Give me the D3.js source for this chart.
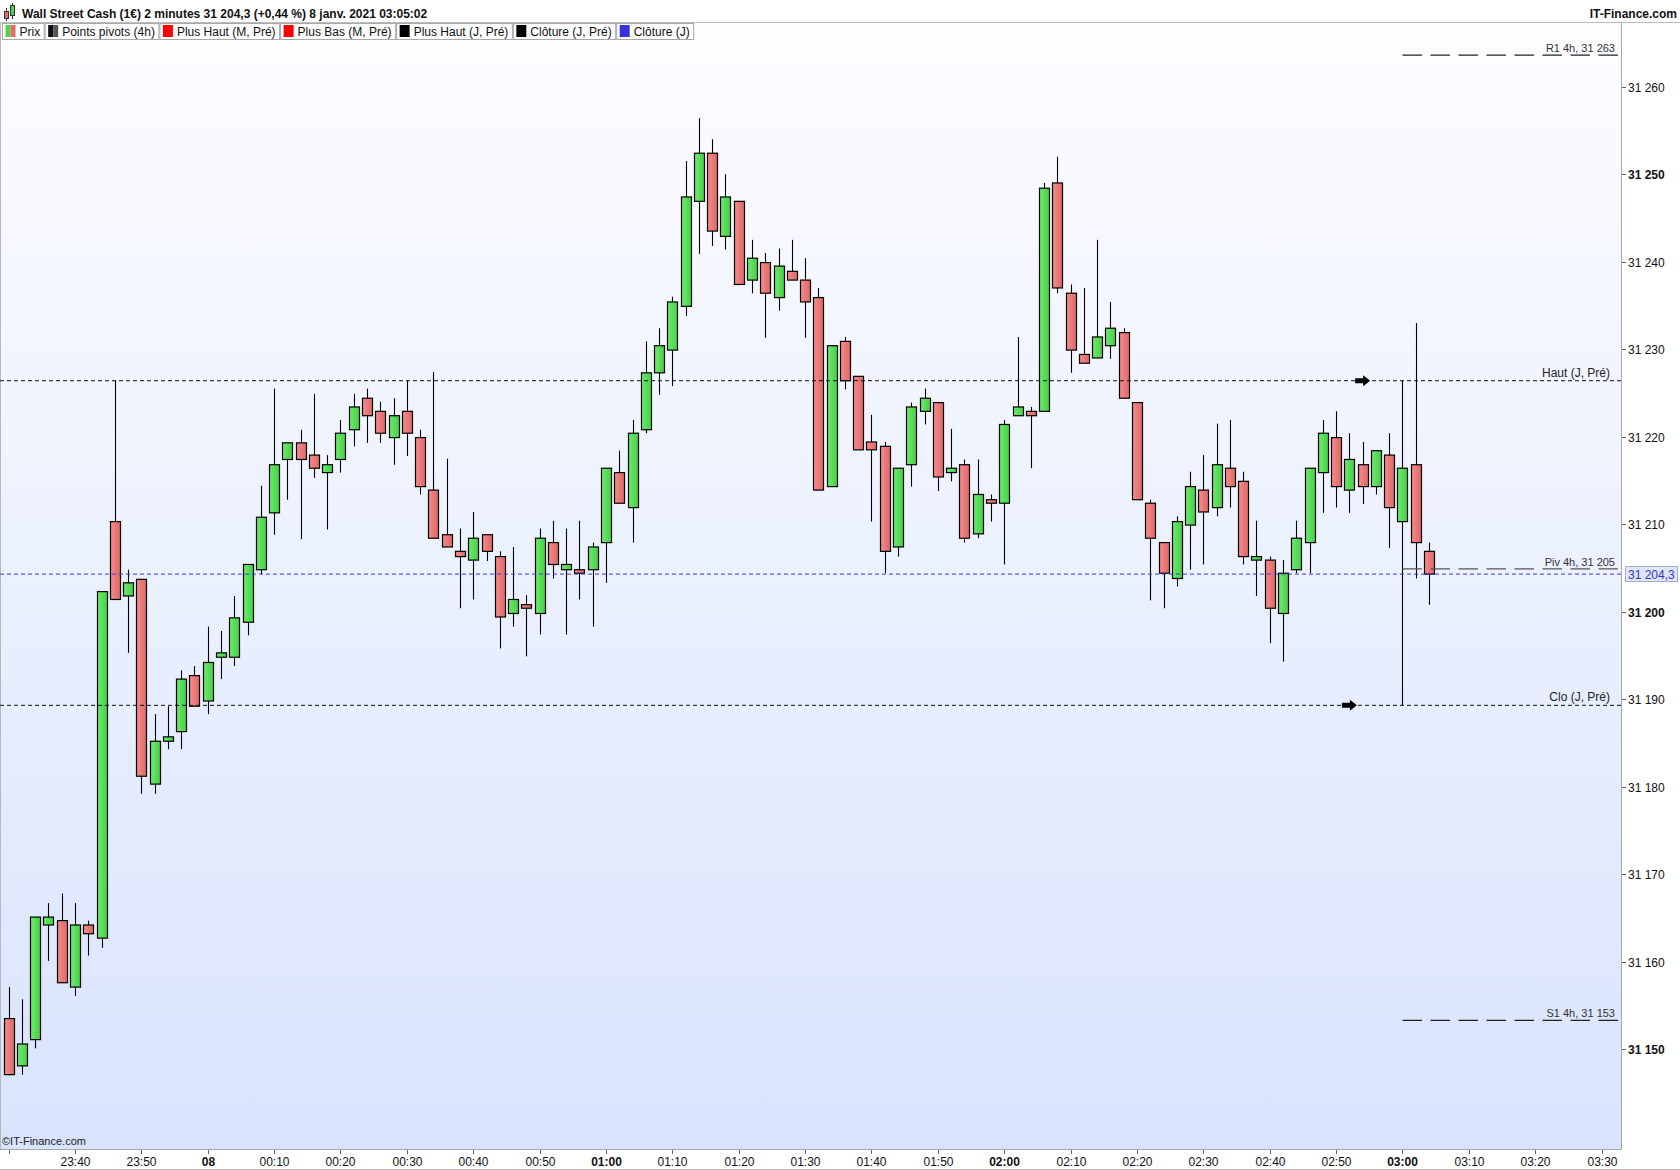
<!DOCTYPE html>
<html><head><meta charset="utf-8">
<script src="https://cdn.jsdelivr.net/npm/d3@7"></script>
<style>
body{margin:0;background:#fff;}
svg{display:block;font-family:"Liberation Sans",Arial,sans-serif;}
</style>
</head><body>
<svg id="c" width="1680" height="1170"></svg>
<script>
// ---------- DATA ----------
const titleText = "Wall Street Cash (1€) 2 minutes 31 204,3 (+0,44 %) 8 janv. 2021 03:05:02";
const brandText = "IT-Finance.com";
const copyrightText = "©IT-Finance.com";
// 2-minute candles starting 23:30 (index 0) to 03:04 (index 107)
const opens = [31153.5,31148.1,31151.1,31164.2,31164.7,31157.1,31164.2,31162.7,31210.3,31201.8,
31203.7,31180.3,31185.2,31186.3,31192.7,31189.8,31194.8,31194.8,31198.8,31204.8,
31211.3,31217.4,31219.3,31217.9,31215.9,31217.4,31220.8,31224.4,31222.9,31219.9,
31222.9,31219.9,31213.9,31208.8,31206.9,31205.9,31208.8,31206.3,31199.8,31200.8,
31199.8,31207.9,31204.8,31204.8,31204.8,31207.9,31215.9,31211.9,31220.8,31227.3,
31229.9,31234.9,31246.9,31252.4,31242.9,31246.9,31237.9,31239.9,31235.9,31238.9,
31237.9,31235.9,31214.3,31230.9,31226.9,31219.4,31218.9,31207.4,31216.8,31222.9,
31223.9,31215.9,31216.8,31208.9,31212.8,31212.4,31222.4,31222.9,31222.9,31249.0,
31236.4,31229.4,31229.0,31230.4,31231.9,31223.9,31212.4,31207.9,31203.8,31209.9,
31213.9,31211.9,31216.4,31214.9,31205.9,31205.9,31199.8,31204.8,31207.9,31215.9,
31219.9,31213.9,31216.8,31214.3,31217.9,31210.3,31216.8,31206.9];
const highs = [31157.1,31155.7,31165.1,31166.7,31167.8,31166.7,31164.7,31202.3,31226.4,31204.8,
31203.7,31188.3,31189.2,31193.3,31193.8,31198.3,31197.8,31201.8,31205.4,31214.4,
31225.5,31219.3,31220.8,31224.9,31217.9,31221.9,31224.9,31225.5,31224.0,31224.4,
31226.4,31220.8,31227.4,31217.5,31209.5,31211.4,31208.8,31206.9,31207.4,31201.9,
31209.5,31210.4,31209.5,31210.4,31207.9,31216.4,31218.4,31221.9,31230.9,31232.4,
31236.0,31251.5,31256.4,31254.0,31250.0,31246.9,31242.5,31241.0,31241.5,31242.5,
31240.4,31237.0,31230.4,31231.4,31226.9,31222.5,31219.4,31216.4,31223.9,31225.5,
31223.9,31220.9,31217.4,31217.4,31213.4,31221.9,31231.4,31223.4,31249.0,31252.0,
31237.4,31237.0,31242.5,31235.4,31232.4,31223.9,31212.8,31207.9,31210.9,31216.0,
31217.9,31221.5,31221.9,31216.0,31210.4,31206.3,31205.9,31210.4,31216.4,31221.9,
31222.9,31220.4,31219.4,31218.4,31220.4,31226.4,31233.0,31207.9];
const lows = [31147.0,31147.1,31150.1,31160.1,31157.6,31156.1,31160.7,31161.6,31201.4,31195.3,
31179.2,31179.2,31184.3,31184.3,31189.2,31188.3,31192.3,31193.8,31197.3,31204.3,
31208.8,31212.8,31208.3,31215.3,31209.4,31215.9,31218.9,31219.3,31219.3,31216.8,
31217.8,31213.4,31208.4,31207.4,31200.4,31201.4,31205.8,31195.8,31198.3,31194.9,
31197.4,31203.8,31197.4,31201.4,31198.3,31203.3,31212.4,31207.9,31220.4,31224.8,
31225.8,31233.8,31240.9,31241.8,31241.4,31237.4,31236.4,31231.3,31234.4,31237.9,
31231.3,31213.9,31214.3,31225.4,31218.5,31210.3,31204.4,31206.3,31214.3,31221.4,
31213.8,31214.9,31207.9,31208.4,31210.3,31205.4,31222.4,31216.4,31222.9,31236.4,
31227.3,31228.4,31229.0,31228.9,31224.4,31212.8,31201.3,31200.4,31202.9,31204.8,
31205.4,31210.9,31211.9,31205.4,31201.8,31196.4,31194.3,31204.4,31204.4,31211.3,
31211.9,31211.3,31212.3,31213.4,31207.3,31189.3,31203.8,31200.8];
const closes = [31147.1,31150.6,31165.1,31165.1,31157.6,31164.2,31163.2,31202.3,31201.4,31203.3,
31181.2,31185.2,31185.7,31192.3,31189.2,31194.2,31195.3,31199.3,31205.4,31210.8,
31216.8,31219.3,31217.4,31216.4,31216.8,31220.4,31223.4,31222.4,31220.4,31222.4,
31220.4,31214.3,31208.4,31207.4,31206.3,31208.4,31206.9,31199.4,31201.4,31200.4,
31208.4,31205.4,31205.4,31204.4,31207.4,31216.4,31212.4,31220.4,31227.3,31230.4,
31235.4,31247.4,31252.4,31243.5,31247.4,31237.4,31240.4,31236.4,31239.5,31237.9,
31235.4,31213.9,31230.4,31226.4,31218.5,31218.5,31206.9,31216.4,31223.4,31224.4,
31215.4,31216.4,31208.4,31213.4,31212.4,31221.4,31223.4,31222.4,31248.4,31237.0,
31229.9,31228.4,31231.4,31232.4,31224.4,31212.8,31208.4,31204.4,31210.3,31214.3,
31211.4,31216.8,31214.3,31206.3,31206.3,31200.4,31204.4,31208.4,31216.4,31220.4,
31214.3,31217.4,31214.3,31218.4,31211.9,31216.4,31207.9,31204.3];

// x ticks every 10 minutes (5 candles) from 23:30
const xTickLabels = ["","23:40","23:50","08","00:10","00:20","00:30","00:40","00:50","01:00",
"01:10","01:20","01:30","01:40","01:50","02:00","02:10","02:20","02:30","02:40","02:50","03:00",
"03:10","03:20","03:30"];
const xTickBold = ["08","01:00","02:00","03:00"];
const yTicks = [31150,31160,31170,31180,31190,31200,31210,31220,31230,31240,31250,31260];
const yTickLabels = ["31 150","31 160","31 170","31 180","31 190","31 200","31 210","31 220","31 230","31 240","31 250","31 260"];
const yTickBold = ["31 150","31 200","31 250"];

const dayLevelNames = ["Haut (J, Pré)","Clo (J, Pré)"];
const dayLevelValues = [31226.4, 31189.3];
const dayLevelArrowIdx = [102, 101];
const pivotNames = ["R1 4h, 31 263","Piv 4h, 31 205","S1 4h, 31 153"];
const pivotValues = [31263.6, 31204.9, 31153.3];
const pivotStartIdx = 105;
const lastPrice = 31204.3;
const lastPriceLabel = "31 204,3";

const legendNames = ["Prix","Points pivots (4h)","Plus Haut (M, Pré)","Plus Bas (M, Pré)","Plus Haut (J, Pré)","Clôture (J, Pré)","Clôture (J)"];
const legendColors = [["#4fd04f","#e86a6a"],["#111111","#555555"],["#ff0000"],["#ff0000"],["#000000"],["#000000"],["#3434dc"]];

// ---------- LAYOUT ----------
const W = 1680, H = 1170;
const plot = {left:0, right:1621, top:23, bottom:1149};

const svg = d3.select("#c");
const defs = svg.append("defs");
const bg = defs.append("linearGradient").attr("id","bg").attr("x1",0).attr("y1",0).attr("x2",0).attr("y2",1);
bg.append("stop").attr("offset","0%").attr("stop-color","#fdfdff");
bg.append("stop").attr("offset","100%").attr("stop-color","#d8e3fd");
const gg = defs.append("linearGradient").attr("id","gUp").attr("x1",0).attr("y1",0).attr("x2",1).attr("y2",0);
gg.append("stop").attr("offset","0%").attr("stop-color","#6fea6f");
gg.append("stop").attr("offset","100%").attr("stop-color","#44cf44");
const gr = defs.append("linearGradient").attr("id","gDn").attr("x1",0).attr("y1",0).attr("x2",1).attr("y2",0);
gr.append("stop").attr("offset","0%").attr("stop-color","#f58c8c");
gr.append("stop").attr("offset","100%").attr("stop-color","#df6767");
defs.append("clipPath").attr("id","clip").append("rect")
  .attr("x",plot.left).attr("y",plot.top).attr("width",plot.right-plot.left).attr("height",plot.bottom-plot.top);

const n = opens.length;
const x = d3.scaleLinear().domain([-0.648, 121.46]).range([plot.left, plot.right]);
const y = d3.scaleLinear().domain([31138.6, 31267.28]).range([plot.bottom, plot.top]);

// plot background
svg.append("rect").attr("x",plot.left).attr("y",plot.top).attr("width",plot.right-plot.left)
  .attr("height",plot.bottom-plot.top).attr("fill","url(#bg)");

// header
svg.append("line").attr("x1",0).attr("x2",W).attr("y1",22.5).attr("y2",22.5).attr("stroke","#bcbcbc");
svg.append("text").attr("x",22).attr("y",18).attr("font-size",12).attr("font-weight","bold").attr("fill","#111").text(titleText);
svg.append("text").attr("x",W-3).attr("y",18).attr("font-size",12).attr("font-weight","bold").attr("fill","#111")
  .attr("text-anchor","end").text(brandText);
// title icon
const ic = svg.append("g");
ic.append("line").attr("x1",6.5).attr("x2",6.5).attr("y1",8).attr("y2",21).attr("stroke","#333");
ic.append("rect").attr("x",4.5).attr("y",11.5).attr("width",4).attr("height",7).attr("fill","#e86a6a").attr("stroke","#333");
ic.append("line").attr("x1",12.5).attr("x2",12.5).attr("y1",3).attr("y2",19).attr("stroke","#333");
ic.append("rect").attr("x",10.5).attr("y",5.5).attr("width",4).attr("height",10).attr("fill","#4fd04f").attr("stroke","#333");

// frame
svg.append("line").attr("x1",plot.right+0.5).attr("x2",plot.right+0.5).attr("y1",plot.top).attr("y2",plot.bottom+0.5).attr("stroke","#a8a8a8");
svg.append("line").attr("x1",0).attr("x2",plot.right+0.5).attr("y1",plot.bottom+0.5).attr("y2",plot.bottom+0.5).attr("stroke","#a8a8a8");
svg.append("line").attr("x1",0.5).attr("x2",0.5).attr("y1",plot.top).attr("y2",plot.bottom).attr("stroke","#b8b8b8");
svg.append("line").attr("x1",0).attr("x2",W).attr("y1",H-0.5).attr("y2",H-0.5).attr("stroke","#bcbcbc");

// y axis
const ya = svg.append("g");
yTicks.forEach((v,i)=>{
  const yy = Math.round(y(v))+0.5;
  ya.append("line").attr("x1",plot.right+1).attr("x2",plot.right+5).attr("y1",yy).attr("y2",yy).attr("stroke","#666");
  ya.append("text").attr("x",plot.right+7).attr("y",yy+4.5).attr("font-size",12)
    .attr("font-weight", yTickBold.includes(yTickLabels[i]) ? "bold" : "normal")
    .attr("fill","#111").text(yTickLabels[i]);
});

// x axis
const xa = svg.append("g");
xTickLabels.forEach((lab,k)=>{
  const xx = Math.round(x(k*5))+0.5;
  xa.append("line").attr("x1",xx).attr("x2",xx).attr("y1",plot.bottom+1).attr("y2",plot.bottom+5).attr("stroke","#666");
  if (lab) xa.append("text").attr("x",xx).attr("y",plot.bottom+17).attr("text-anchor","middle").attr("font-size",12)
    .attr("font-weight", xTickBold.includes(lab) ? "bold":"normal").attr("fill","#111").text(lab);
});

// candles
const cg = svg.append("g").attr("clip-path","url(#clip)");
const idx = d3.range(n);
cg.selectAll("line.w").data(idx).join("line").attr("class","w")
  .attr("x1",i=>Math.round(x(i))+0.5).attr("x2",i=>Math.round(x(i))+0.5)
  .attr("y1",i=>y(highs[i])).attr("y2",i=>y(lows[i])).attr("stroke","#000").attr("stroke-width",1.1);
cg.selectAll("rect.b").data(idx).join("rect").attr("class","b")
  .attr("x",i=>Math.round(x(i))-4.5).attr("width",10)
  .attr("y",i=>y(Math.max(opens[i],closes[i])))
  .attr("height",i=>Math.max(1, Math.abs(y(opens[i])-y(closes[i]))))
  .attr("fill",i=>closes[i]>=opens[i]?"url(#gUp)":"url(#gDn)")
  .attr("stroke","#000").attr("stroke-width",1.2);

// overlay lines
const og = svg.append("g").attr("clip-path","url(#clip)");
dayLevelValues.forEach((v,i)=>{
  og.append("line").attr("x1",plot.left).attr("x2",plot.right).attr("y1",y(v)).attr("y2",y(v))
    .attr("stroke","#111").attr("stroke-dasharray","4,3");
  og.append("text").attr("x",plot.right-11).attr("y",y(v)-4).attr("text-anchor","end")
    .attr("font-size",12).attr("fill","#222").text(dayLevelNames[i]);
  og.append("path").attr("transform",`translate(${x(dayLevelArrowIdx[i])},${y(v)})`)
    .attr("d","M-7.5,-2.5 H0.5 V-5.5 L7.5,0 L0.5,5.5 V2.5 H-7.5 Z").attr("fill","#000");
});
og.append("line").attr("x1",plot.left).attr("x2",plot.right).attr("y1",y(lastPrice)).attr("y2",y(lastPrice))
  .attr("stroke","#3a3ad8").attr("stroke-dasharray","4,3");
pivotValues.forEach((v,i)=>{
  og.append("line").attr("x1",x(pivotStartIdx)).attr("x2",plot.right-2).attr("y1",y(v)).attr("y2",y(v))
    .attr("stroke", i===1 ? "#555" : "#222").attr("stroke-width",1.3).attr("stroke-dasharray","19.5,8.5");
  og.append("text").attr("x",plot.right-6).attr("y",y(v)-3).attr("text-anchor","end")
    .attr("font-size",11).attr("fill","#333").text(pivotNames[i]);
});

// last price label
const ly = y(lastPrice);
svg.append("rect").attr("x",plot.right+4.5).attr("y",Math.round(ly)-7.5).attr("width",52).attr("height",15)
  .attr("fill","#dfe5f3").attr("stroke","#a4aeca");
svg.append("text").attr("x",plot.right+7).attr("y",Math.round(ly)+4.5).attr("font-size",12).attr("fill","#3535cc").text(lastPriceLabel);

// copyright
svg.append("text").attr("x",2).attr("y",plot.bottom-4).attr("font-size",11).attr("fill","#222").text(copyrightText);

// legend
const lg = svg.append("g");
let lx = 2.5;
legendNames.forEach((name,i)=>{
  const g = lg.append("g");
  const box = g.append("rect").attr("x",lx).attr("y",23.5).attr("height",16).attr("fill","#fff").attr("stroke","#a8a8a8");
  const cols = legendColors[i];
  const sw = 10 / cols.length;
  cols.forEach((c,j)=>{
    g.append("rect").attr("x",lx+3+j*sw).attr("y",25).attr("width",sw).attr("height",12).attr("fill",c);
  });
  const t = g.append("text").attr("x",lx+17).attr("y",35.5).attr("font-size",12).attr("fill","#111").text(name);
  const w = t.node().getComputedTextLength() + 21;
  box.attr("width",w);
  lx += w + 1;
});
</script>
</body></html>
